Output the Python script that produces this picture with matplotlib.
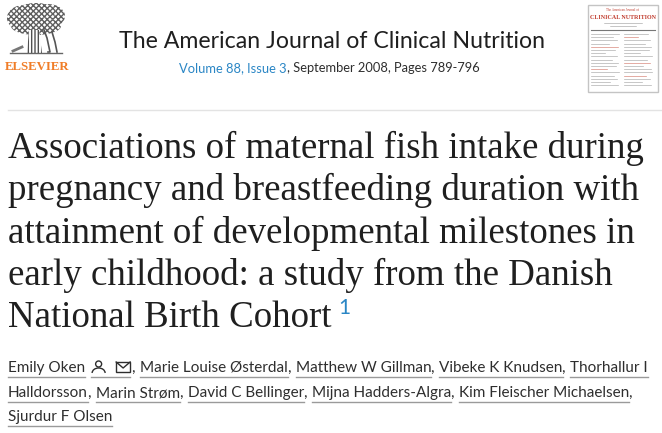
import matplotlib
matplotlib.use("Agg")
import matplotlib.pyplot as plt
from matplotlib.patches import Rectangle, Ellipse, Circle, Arc, Polygon

W, H = 662, 433

journal = "The American Journal of Clinical Nutrition"
volume_link = "Volume 88, Issue 3"
volume_rest = ", September 2008, Pages 789-796"
title_lines = [
    "Associations of maternal fish intake during",
    "pregnancy and breastfeeding duration with",
    "attainment of developmental milestones in",
    "early childhood: a study from the Danish",
    "National Birth Cohort",
]
footnote = "1"
author_lines = [
    ["Emily Oken", "Marie Louise Østerdal", "Matthew W Gillman", "Vibeke K Knudsen", "Thorhallur I"],
    ["Halldorsson", "Marin Strøm", "David C Bellinger", "Mijna Hadders-Algra", "Kim Fleischer Michaelsen"],
    ["Sjurdur F Olsen"],
]
# last name on a line continues on the next one (no comma)
continued = [True, False, False]

TXT = "#2e2e2e"
BLUE = "#2a86c5"
ORANGE = "#f07d28"

fig = plt.figure(figsize=(W / 100, H / 100), dpi=100)
ax = fig.add_axes([0, 0, 1, 1])
ax.set_xlim(0, W)
ax.set_ylim(H, 0)
ax.axis("off")
renderer = fig.canvas.get_renderer()


def width(t):
    return t.get_window_extent(renderer=renderer).width


def fit(t, target):
    t.set_fontsize(t.get_fontsize() * target / width(t))
    return t


# --- logo: tree + ELSEVIER
for cx, cy, ew, eh in [(24, 18, 34, 26), (48, 16, 34, 24), (36, 12, 40, 18), (36, 26, 50, 18)]:
    ax.add_patch(Ellipse((cx, cy), ew, eh, facecolor="white", edgecolor="#5e5e5e",
                         hatch="xxxxxx", lw=0))
ax.add_patch(Polygon([(29, 30), (39, 30), (42, 53), (27, 53)], closed=True,
                     facecolor="white", edgecolor="#505050", hatch="|||||", lw=0))
ax.plot([44, 47, 50, 48], [30, 38, 52, 52], color="#555555", lw=1.2)
ax.plot([52, 55, 57], [32, 42, 52], color="#555555", lw=1.2)
ax.plot([10, 62], [53, 53], color="#666666", lw=1)
ax.plot([13, 22], [51, 47], color="#777777", lw=2)
ax.text(37, 70, "ELSEVIER", color=ORANGE, fontsize=9.2, fontweight="bold",
        family="Liberation Serif", ha="center", va="baseline")

# --- journal header
t = ax.text(119, 48, journal, color="#1f1f1f", fontsize=15, family="Lato",
            ha="left", va="baseline")
fit(t, 426)
v1 = ax.text(179, 72, volume_link, color=BLUE, fontsize=10, family="Lato",
             ha="left", va="baseline")
v2 = ax.text(0, 72, volume_rest, color=TXT, fontsize=10, family="Lato",
             ha="left", va="baseline")
scale = 299 / (width(v1) + width(v2))
for v in (v1, v2):
    v.set_fontsize(10 * scale)
v2.set_x(179 + width(v1))

# --- cover thumbnail
ax.add_patch(Rectangle((588, 5), 70, 87, facecolor="white", edgecolor="#c4c4c4", lw=1))
ax.text(623, 11, "The American Journal of", color="#c0392b", fontsize=2.3,
        family="Liberation Serif", ha="center", va="baseline")
ax.text(623, 19, "CLINICAL NUTRITION", color="#c0392b", fontsize=4.3,
        family="Liberation Serif", fontweight="bold", ha="center", va="baseline")
ax.plot([604, 642], [23, 23], color="#9a9a9a", lw=0.4)
ax.plot([610, 636], [26, 26], color="#9a9a9a", lw=0.4)
ax.plot([591, 655], [30, 30], color="#777777", lw=0.8)
row_len = [28, 22, 26, 18, 27, 24, 14, 26, 21, 27, 25, 16, 28, 23, 26, 19, 27]
row_red = [4, 11]
row_red2 = [1, 9, 13]
for i, ln in enumerate(row_len):
    y = 34 + i * 3.2
    c = "#d98a7e" if i in row_red else "#b0b0b0"
    ax.plot([591, 591 + ln], [y, y], color=c, lw=0.5)
    ln2 = row_len[(i + 5) % len(row_len)]
    c2 = "#d98a7e" if i in row_red2 else "#b0b0b0"
    ax.plot([624, 624 + ln2], [y, y], color=c2, lw=0.5)

# --- separator
ax.plot([8, W], [110, 110], color="#e3e3e3", lw=1)

# --- article title
baselines = [158, 200, 243, 285, 327]
t0 = ax.text(8, baselines[0], title_lines[0], color="#1f1f1f", fontsize=26,
             family="Liberation Serif", ha="left", va="baseline")
fit(t0, 637)
tsize = t0.get_fontsize()
last = t0
for line, y in zip(title_lines[1:], baselines[1:]):
    last = ax.text(8, y, line, color="#1f1f1f", fontsize=tsize,
                   family="Liberation Serif", ha="left", va="baseline")
ax.text(8 + width(last) + 7, baselines[-1] - 13, footnote, color=BLUE,
        fontsize=15, family="Lato", ha="left", va="baseline")

# --- authors
probe = ax.text(0, -50, "Marie Louise Østerdal", fontsize=10, family="Lato")
asize = 10 * 148 / width(probe)
probe.remove()
ULC = "#9a9a9a"
author_base = [372, 397, 421]
for li, (names, y) in enumerate(zip(author_lines, author_base)):
    x = 8
    for ni, name in enumerate(names):
        t = ax.text(x, y, name, color=TXT, fontsize=asize, family="Lato",
                    ha="left", va="baseline")
        w = width(t)
        ax.plot([x, x + w], [y + 5, y + 5], color=ULC, lw=1)
        x += w
        if li == 0 and ni == 0:
            # contact icons
            x0 = x + 6
            ax.add_patch(Circle((x0 + 7.5, y - 8), 3, fill=False, edgecolor=TXT, lw=1))
            ax.add_patch(Arc((x0 + 7.5, y + 1), 13, 10, theta1=180, theta2=360,
                             edgecolor=TXT, lw=1))
            ax.add_patch(Rectangle((x0 + 25, y - 10), 14, 10, fill=False,
                                   edgecolor=TXT, lw=1))
            ax.plot([x0 + 25, x0 + 32, x0 + 39], [y - 10, y - 4, y - 10],
                    color=TXT, lw=1)
            ax.plot([x0, x0 + 39], [y + 5, y + 5], color=ULC, lw=1)
            x = x0 + 41
        is_last = ni == len(names) - 1
        if is_last and (continued[li] or li == len(author_lines) - 1):
            continue
        c = ax.text(x, y, ", ", color=TXT, fontsize=asize, family="Lato",
                    ha="left", va="baseline")
        x += width(c) + 0.5

fig.savefig("out.png", dpi=100)
